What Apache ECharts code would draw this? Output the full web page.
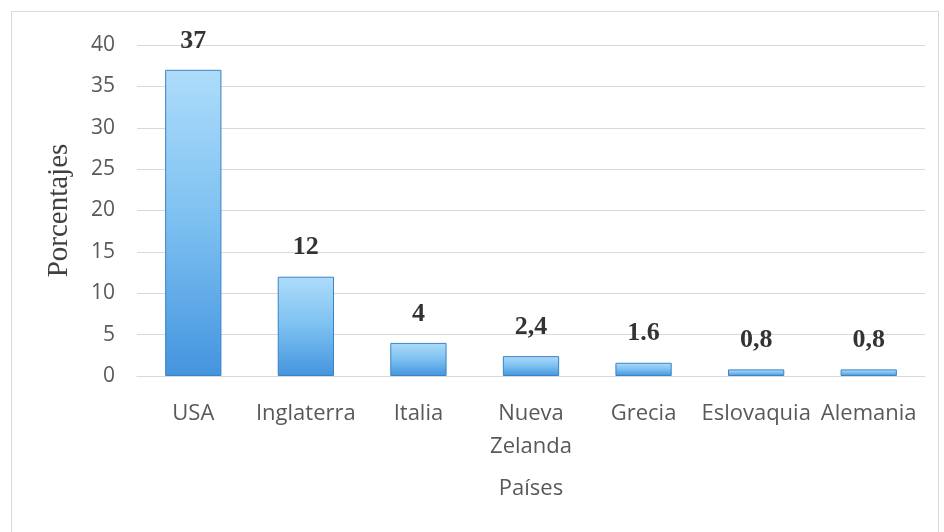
<!DOCTYPE html>
<html>
<head>
<meta charset="utf-8">
<script src="https://cdn.jsdelivr.net/npm/echarts@6/dist/echarts.min.js"></script>
<style>
  html, body { margin: 0; padding: 0; background: #fff; }
  #chart { width: 944px; height: 532px; }
</style>
</head>
<body>
<div id="chart"></div>
<script>
// datos del gráfico
const paises = ['USA', 'Inglaterra', 'Italia', 'Nueva\nZelanda', 'Grecia', 'Eslovaquia', 'Alemania'];
const porcentajes = [37, 12, 4, 2.4, 1.6, 0.8, 0.8];
const etiquetas = ['37', '12', '4', '2,4', '1.6', '0,8', '0,8'];

const chart = echarts.init(document.getElementById('chart'));

const option = {
  backgroundColor: '#fff',
  animation: false,
  graphic: [
    {
      type: 'rect',
      shape: { x: 11.5, y: 11.5, width: 927, height: 530 },
      style: { fill: 'none', stroke: '#d9d9d9', lineWidth: 1 },
      silent: true,
    },
  ],
  grid: { left: 137, right: 19, top: 45, bottom: 156 },
  xAxis: {
    type: 'category',
    data: paises,
    name: 'Países',
    nameLocation: 'middle',
    nameGap: 102,
    nameTextStyle: { fontFamily: 'Open Sans', fontSize: 22, color: '#595959' },
    axisLine: { show: true, lineStyle: { color: '#d9d9d9', width: 1 } },
    axisTick: { show: false },
    axisLabel: {
      interval: 0,
      margin: 21,
      fontFamily: 'Open Sans',
      fontSize: 22,
      color: '#595959',
      lineHeight: 33,
    },
  },
  yAxis: {
    type: 'value',
    min: 0,
    max: 40,
    interval: 5,
    name: 'Porcentajes',
    nameLocation: 'middle',
    nameGap: 63,
    nameTextStyle: { fontFamily: 'Liberation Serif', fontSize: 29, color: '#404040' },
    axisLine: { show: false },
    axisTick: { show: false },
    axisLabel: { margin: 22, fontFamily: 'Open Sans', fontSize: 21, color: '#595959' },
    splitLine: { lineStyle: { color: '#d9d9d9', width: 1 } },
  },
  series: [
    {
      type: 'bar',
      data: porcentajes,
      barWidth: '50%',
      itemStyle: {
        color: new echarts.graphic.LinearGradient(0, 0, 0, 1, [
          { offset: 0, color: '#aedcfa' },
          { offset: 0.5, color: '#7cc0f1' },
          { offset: 1, color: '#4494de' },
        ]),
        borderColor: '#3c82c6',
        borderWidth: 1,
      },
      label: {
        show: true,
        position: 'top',
        distance: 16,
        formatter: (p) => etiquetas[p.dataIndex],
        fontFamily: 'Liberation Serif',
        fontWeight: 'bold',
        fontSize: 26,
        color: '#333',
      },
    },
  ],
};

chart.setOption(option);
</script>
</body>
</html>
